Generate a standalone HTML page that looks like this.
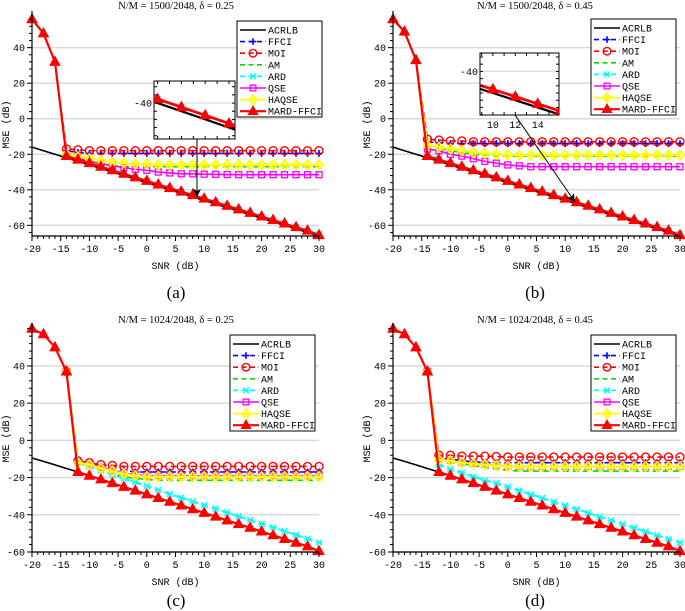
<!DOCTYPE html>
<html><head><meta charset="utf-8"><style>
html,body{margin:0;padding:0;background:#fff;}
svg{display:block;}
</style></head><body>
<svg id="fig" width="685" height="611" viewBox="0 0 685 611" xmlns="http://www.w3.org/2000/svg"></svg>
<script>
const snr = [-20,-18,-16,-14,-12,-10,-8,-6,-4,-2,0,2,4,6,8,10,12,14,16,18,20,22,24,26,28,30];
const seriesNames = ["ACRLB","FFCI","MOI","AM","ARD","QSE","HAQSE","MARD-FFCI"];
const xTicks = [-20,-15,-10,-5,0,5,10,15,20,25,30];
const yTicks = [-60,-40,-20,0,20,40];
const titlesText = ["N/M = 1500/2048, δ = 0.25","N/M = 1500/2048, δ = 0.45","N/M = 1024/2048, δ = 0.25","N/M = 1024/2048, δ = 0.45"];
const panelLabels = ["(a)","(b)","(c)","(d)"];

// panel a
const aACRLB = [-16,-18,-20,-22,-24,-26,-28,-30,-32,-34,-36,-38,-40,-42,-44,-46,-48,-50,-52,-54,-56,-58,-60,-62,-64,-66];
const aFFCI  = [56,48,32,-18,-19,-19.5,-19.5,-19.5,-19.5,-19.5,-19.5,-19.5,-19.5,-19.5,-19.5,-19.5,-19.5,-19.5,-19.5,-19.5,-19.5,-19.5,-19.5,-19.5,-19.5,-19.5];
const aMOI   = [56,48,32,-17,-17.5,-18,-18,-18,-18,-18,-18,-18,-18,-18,-18,-18,-18,-18,-18,-18,-18,-18,-18,-18,-18,-18];
const aAM    = [56,48,32,-20,-22,-24,-25.5,-26.5,-27,-27,-27,-27,-27,-27,-27,-27,-27,-27,-27,-27,-27,-27,-27,-27,-27,-27];
const aARD   = [56,48,32,-20,-22.5,-25,-27,-29,-31,-33,-35,-37,-39,-41,-43,-45,-47,-49,-51,-53,-55,-57,-59,-61,-63,-65];
const aQSE   = [56,48,32,-20,-22,-24,-25,-26.5,-27.5,-28.5,-29,-30,-30.5,-31,-31,-31.2,-31.3,-31.4,-31.5,-31.5,-31.5,-31.5,-31.5,-31.5,-31.5,-31.5];
const aHAQSE = [56,48,32,-20,-21.5,-22.5,-23.5,-24.5,-25,-25.5,-25.5,-26,-26,-26,-26,-26,-26,-26,-26,-26,-26,-26,-26,-26,-26,-26];
const aMARD  = [56,48,32,-21,-23,-25,-27,-29,-31,-33,-35,-37,-39,-41,-43,-45,-47,-49,-51,-53,-55,-57,-59,-61,-63,-65.5];
// panel b
const bACRLB = aACRLB;
const bFFCI  = [56,49,33,-13,-13.5,-14,-14,-14,-14,-14,-14,-14,-14,-14,-14,-14,-14,-14,-14,-14,-14,-14,-14,-14,-14,-14];
const bMOI   = [56,49,33,-11.5,-12,-12.5,-12.5,-13,-13,-13,-13,-13,-13,-13,-13,-13,-13,-13,-13,-13,-13,-13,-13,-13,-13,-13];
const bAM    = [56,49,33,-15,-16.5,-18,-19,-20,-20.5,-21,-21,-21,-21,-21,-21,-21,-21,-21,-21,-21,-21,-21,-21,-21,-21,-21];
const bARD   = [56,49,33,-20,-22.5,-25,-27,-29,-31,-33,-35,-37,-39,-41,-43,-45,-47,-49,-51,-53,-55,-57,-59,-61,-63,-65];
const bQSE   = [56,49,33,-17,-18,-20,-21,-22.5,-24,-25,-26,-26.5,-27,-27,-27,-27,-27,-27,-27,-27,-27,-27,-27,-27,-27,-27];
const bHAQSE = [56,49,33,-15,-16,-17,-18,-19,-19.5,-20,-20.5,-20.5,-20.5,-20.5,-20.5,-20.5,-20.5,-20.5,-20.5,-20.5,-20.5,-20.5,-20.5,-20.5,-20.5,-20.5];
const bMARD  = [56,49,33,-21,-23,-25,-27,-29,-31,-33,-35,-37,-39,-41,-43,-45,-47,-49,-51,-53,-55,-57,-59,-61,-63,-65.5];
// panel c
const cACRLB = [-9.5,-11.3,-13.2,-15.1,-17,-19,-21,-23,-25,-27,-29,-31,-33,-35,-37,-39,-41,-43,-45,-47,-49,-51,-53,-55,-57,-59.5];
const cFFCI  = [60,57,50,37,-11,-12.5,-14,-15,-16,-17,-17,-17,-17,-17,-17,-17,-17,-17,-17,-17,-17,-17,-17,-17,-17,-17];
const cMOI   = [60,57,50,37,-11,-12,-13,-13.5,-14,-14,-14,-14,-14,-14,-14,-14,-14,-14,-14,-14,-14,-14,-14,-14,-14,-14];
const cAM    = [60,57,50,37,-12,-14,-16,-18,-19.5,-20.5,-21,-21.5,-21.5,-21.5,-21.5,-21.5,-21.5,-21.5,-21.5,-21.5,-21.5,-21.5,-21.5,-21.5,-21.5,-21.5];
const cARD   = [60,57,50,37,-12,-14,-16,-18.5,-20.5,-22.5,-24.5,-26.7,-28.8,-30.8,-32.8,-34.8,-36.8,-38.8,-40.8,-42.8,-44.8,-46.8,-48.8,-50.8,-52.8,-55];
const cQSE   = [60,57,50,37,-11.5,-12.5,-14.5,-16,-17.5,-18.5,-19,-19,-19,-19,-19,-19,-19,-19,-19,-19,-19,-19,-19,-19,-19,-19];
const cHAQSE = [60,57,50,37,-12,-13,-15,-16.5,-18,-19,-19.5,-19.5,-19.5,-19.5,-19.5,-19.5,-19.5,-19.5,-19.5,-19.5,-19.5,-19.5,-19.5,-19.5,-19.5,-19.5];
const cMARD  = [60,57,50,37,-17,-19,-21,-23,-25,-27,-29,-31,-33,-35,-37,-39,-41,-43,-45,-47,-49,-51,-53,-55,-57,-59.5];
// panel d
const dACRLB = cACRLB;
const dFFCI  = [60,57,50,37,-9.5,-10,-11,-11.5,-12,-12,-12,-12,-12,-12,-12,-12,-12,-12,-12,-12,-12,-12,-12,-12,-12,-12];
const dMOI   = [60,57,50,37,-8,-8,-8.5,-8.5,-8.5,-8.7,-9,-9,-9,-9,-9,-9,-9,-9,-9,-9,-9,-9,-9,-9,-9,-9];
const dAM    = [60,57,50,37,-10,-11,-12.5,-13.5,-14.5,-15.5,-16,-16.5,-16.5,-16.5,-16.5,-16.5,-16.5,-16.5,-16.5,-16.5,-16.5,-16.5,-16.5,-16.5,-16.5,-16.5];
const dARD   = [60,57,50,37,-13,-15.5,-17.5,-19.5,-21.5,-23,-25,-27,-29,-31,-33,-35,-37,-39,-41,-43,-45,-47,-49,-51,-53,-55];
const dQSE   = [60,57,50,37,-10,-10.8,-11.8,-12.3,-12.8,-13.3,-13.8,-14,-14,-14,-14,-14,-14,-14,-14,-14,-14,-14,-14,-14,-14,-14];
const dHAQSE = [60,57,50,37,-10.5,-11,-12,-12.5,-13,-13.5,-14,-14,-14,-14,-14,-14,-14,-14,-14,-14,-14,-14,-14,-14,-14,-14];
const dMARD  = cMARD;

const NS="http://www.w3.org/2000/svg";
const svg=document.getElementById('fig');
function mk(tag,attrs,parent){const e=document.createElementNS(NS,tag);for(const k in attrs)e.setAttribute(k,attrs[k]);(parent||svg).appendChild(e);return e;}

const styles=[
 {c:"#000",dash:"",m:"none",w:1.6},
 {c:"#0000ff",dash:"6,4",m:"plus",w:1.6},
 {c:"#ff0000",dash:"6,4",m:"circle",w:1.6},
 {c:"#00dd00",dash:"6,4",m:"none",w:1.6},
 {c:"#00ffff",dash:"6,4",m:"star",w:1.8},
 {c:"#ff00ff",dash:"",m:"square",w:1.6},
 {c:"#ffff00",dash:"",m:"diamond",w:1.8},
 {c:"#ff0000",dash:"",m:"tri",w:2.2}
];
function marker(g,type,x,y,c,s){
 s=s||1;
 if(type==="plus"){mk('path',{d:`M${x-3.5*s},${y}H${x+3.5*s}M${x},${y-3.5*s}V${y+3.5*s}`,stroke:c,'stroke-width':1.6,fill:'none'},g);}
 else if(type==="circle"){mk('circle',{cx:x,cy:y,r:4*s,stroke:c,'stroke-width':1.4,fill:'none'},g);}
 else if(type==="star"){mk('path',{d:`M${x-3*s},${y-3*s}L${x+3*s},${y+3*s}M${x-3*s},${y+3*s}L${x+3*s},${y-3*s}M${x-3.5*s},${y}H${x+3.5*s}`,stroke:c,'stroke-width':1.4,fill:'none'},g);}
 else if(type==="square"){mk('rect',{x:x-3*s,y:y-3*s,width:6*s,height:6*s,stroke:c,'stroke-width':1.3,fill:'none'},g);}
 else if(type==="diamond"){mk('path',{d:`M${x},${y-5*s}L${x+4.5*s},${y}L${x},${y+5*s}L${x-4.5*s},${y}Z`,stroke:c,'stroke-width':1.3,fill:c,'fill-opacity':0.6},g);}
 else if(type==="tri"){mk('path',{d:`M${x},${y-5.5*s}L${x+5*s},${y+3.5*s}L${x-5*s},${y+3.5*s}Z`,stroke:c,'stroke-width':1,fill:c},g);}
}

function panel(idx,P){
 const g=mk('g',{},svg);
 
 
 const X=v=>P.x0+(v-(-20))/(30-(-20))*(P.x1-P.x0);
 const Y=v=>P.y0+(P.ymax-v)/(P.ymax-P.ymin)*(P.y1-P.y0);
 // grid
 yTicks.forEach(t=>{if(t>=P.ymin&&t<=P.ymax){const gl=mk('line',{x1:P.x0,x2:P.x1,y1:Y(t),y2:Y(t),stroke:'#d9d9d9','stroke-width':1.5},g);}});
 // series
 const clipId='clip'+idx;
 const cp=mk('clipPath',{id:clipId},g);mk('rect',{x:P.x0-8,y:P.y0-6,width:P.x1-P.x0+16,height:P.y1-P.y0+12},cp);
 const sg=mk('g',{'clip-path':`url(#${clipId})`},g);
 P.data.forEach((arr,si)=>{
  const st=styles[si];
  const pts=arr.map((v,i)=>X(snr[i]).toFixed(2)+','+Y(v).toFixed(2)).join(' ');
  const pl=mk('polyline',{points:pts,fill:'none',stroke:st.c,'stroke-width':st.w,'stroke-dasharray':st.dash},sg);
  
  
  if(st.m!=='none')arr.forEach((v,i)=>{if(si===0)return;if(i<3&&si!==7)return;marker(sg,st.m,X(snr[i]),Y(v),st.c);});
 });
 // axes
 const ax=mk('path',{d:`M${P.x0},${P.y0-2}V${P.y1}H${P.x1}`,stroke:'#000','stroke-width':1.2,fill:'none'},g);
 
 for(let v=-20;v<=30;v+=1){const major=v%5===0;mk('line',{x1:X(v),x2:X(v),y1:P.y1,y2:P.y1+(major?5:3),stroke:'#000','stroke-width':1},g);}
 for(let v=-64;v<=60;v+=4){if(v<P.ymin||v>P.ymax)continue;const major=v%20===0;mk('line',{x1:P.x0,x2:P.x0-(major?5:3),y1:Y(v),y2:Y(v),stroke:'#000','stroke-width':1},g);}
 xTicks.forEach(t=>{const tx=mk('text',{x:X(t),y:P.y1+16,'text-anchor':'middle','font-family':'Liberation Mono, monospace','font-size':10},g);tx.textContent=t;});
 yTicks.forEach(t=>{if(t<P.ymin||t>P.ymax)return;const tx=mk('text',{x:P.x0-7,y:Y(t)+3.5,'text-anchor':'end','font-family':'Liberation Mono, monospace','font-size':10},g);tx.textContent=t;});
 const xl=mk('text',{x:(P.x0+P.x1)/2,y:P.y1+33,'text-anchor':'middle','font-family':'Liberation Mono, monospace','font-size':10},g);xl.textContent='SNR (dB)';
 
 const yl=mk('text',{x:0,y:0,'text-anchor':'middle','font-family':'Liberation Mono, monospace','font-size':10,transform:`translate(${P.x0-23},${(P.y0+P.y1)/2}) rotate(-90)`},g);yl.textContent='MSE (dB)';
 
 const ti=mk('text',{x:P.tx,y:P.ty,'text-anchor':'middle','font-family':'Liberation Serif, serif','font-size':10.5},g);ti.textContent=titlesText[idx];
 
 const pl=mk('text',{x:P.tx,y:P.ly,'text-anchor':'middle','font-family':'Liberation Serif, serif','font-size':17},g);pl.textContent=panelLabels[idx];
 
 // inset
 if(P.inset){const I=P.inset;
  const ig=mk('g',{},g);
  const IX=v=>I.x0+(v-I.xmin)/(I.xmax-I.xmin)*(I.x1-I.x0);
  const IY=v=>I.y0+(I.ymax-v)/(I.ymax-I.ymin)*(I.y1-I.y0);
  mk('line',{x1:I.ax0,y1:I.ay0,x2:I.ax1,y2:I.ay1,stroke:'#000','stroke-width':1},g);
  mk('path',{d:`M${I.ax1},${I.ay1}l-5,-9l5,3l4,-2z`,fill:'#000',transform:`rotate(${Math.atan2(I.ay1-I.ay0,I.ax1-I.ax0)*180/Math.PI-90+ (I.ax1===I.ax0?0:0)},${I.ax1},${I.ay1})`},g);
  mk('rect',{x:I.x0,y:I.y0,width:I.x1-I.x0,height:I.y1-I.y0,fill:'#fff',stroke:'#000','stroke-width':1},ig);
  mk('line',{x1:I.x0,x2:I.x1,y1:IY(-40),y2:IY(-40),stroke:'#d9d9d9','stroke-width':1.2},ig);
  const icp=mk('clipPath',{id:'iclip'+idx},ig);mk('rect',{x:I.x0,y:I.y0,width:I.x1-I.x0,height:I.y1-I.y0},icp);
  const isg=mk('g',{'clip-path':`url(#iclip${idx})`},ig);
  [0,4,7].forEach(si=>{const st=styles[si];const arr=P.data[si];
   mk('polyline',{points:arr.map((v,i)=>IX(snr[i])+','+IY(v)).join(' '),fill:'none',stroke:st.c,'stroke-width':st.w+0.6,'stroke-dasharray':st.dash},isg);
   if(st.m!=='none')arr.forEach((v,i)=>marker(isg,st.m,IX(snr[i]),IY(v),st.c));});
  for(let v=Math.ceil(I.xmin);v<=I.xmax;v++){mk('line',{x1:IX(v),x2:IX(v),y1:I.y0,y2:I.y0+3,stroke:'#000'},ig);mk('line',{x1:IX(v),x2:IX(v),y1:I.y1,y2:I.y1-3,stroke:'#000'},ig);}
  for(let v=-52;v<=-34;v+=2){if(v<I.ymin||v>I.ymax)continue;mk('line',{x1:I.x0,x2:I.x0+3,y1:IY(v),y2:IY(v),stroke:'#000'},ig);mk('line',{x1:I.x1,x2:I.x1-3,y1:IY(v),y2:IY(v),stroke:'#000'},ig);}
  const t=mk('text',{x:I.x0-2,y:IY(-40)+3.5,'text-anchor':'end','font-family':'Liberation Mono, monospace','font-size':10},ig);t.textContent='-40';
  I.xt.forEach(v=>{const tt=mk('text',{x:IX(v),y:I.y1+13,'text-anchor':'middle','font-family':'Liberation Mono, monospace','font-size':10},ig);tt.textContent=v;});
 }
 // legend
 const L=P.leg;
 const lg=mk('g',{},g);
 mk('rect',{x:L.x,y:L.y,width:85,height:96,fill:'#fff',stroke:'#000','stroke-width':1},lg);
 seriesNames.forEach((n,si)=>{const st=styles[si];const yy=L.y+9+si*11.6;
  const e=mk('g',{},lg);
  mk('line',{x1:L.x+3,x2:L.x+29,y1:yy,y2:yy,stroke:st.c,'stroke-width':st.w,'stroke-dasharray':st.dash==""?"":"5,3.5"},e);
  if(st.m!=='none')marker(e,st.m,L.x+16,yy,st.c,0.95);
  const t=mk('text',{x:L.x+31,y:yy+3.5,'font-family':'Liberation Mono, monospace','font-size':10},e);t.textContent=n;});
}

panel(0,{x0:32,x1:319,y0:13,y1:236,ymin:-66,ymax:59.5,tx:176,ty:9,ly:298,
 data:[aACRLB,aFFCI,aMOI,aAM,aARD,aQSE,aHAQSE,aMARD],leg:{x:237,y:21},
 inset:{x0:154,x1:235,y0:81,y1:139,xmin:3.7,xmax:10.5,ymin:-48.8,ymax:-34.6,xt:[],ax0:197,ay0:139,ax1:197,ay1:197}});
panel(1,{x0:393,x1:680,y0:13,y1:236,ymin:-66,ymax:59.5,tx:535,ty:9,ly:298,
 data:[bACRLB,bFFCI,bMOI,bAM,bARD,bQSE,bHAQSE,bMARD],leg:{x:591,y:19},
 inset:{x0:480,x1:559,y0:53,y1:115,xmin:8.85,xmax:15.9,ymin:-52.1,ymax:-34.9,xt:[10,12,14],ax0:515,ay0:115,ax1:575,ay1:202}});
panel(2,{x0:32,x1:319,y0:325,y1:552,ymin:-60,ymax:62,tx:176,ty:323,ly:606,
 data:[cACRLB,cFFCI,cMOI,cAM,cARD,cQSE,cHAQSE,cMARD],leg:{x:230,y:335}});
panel(3,{x0:393,x1:680,y0:325,y1:552,ymin:-60,ymax:62,tx:535,ty:323,ly:606,
 data:[dACRLB,dFFCI,dMOI,dAM,dARD,dQSE,dHAQSE,dMARD],leg:{x:591,y:335}});
</script>
</body></html>
